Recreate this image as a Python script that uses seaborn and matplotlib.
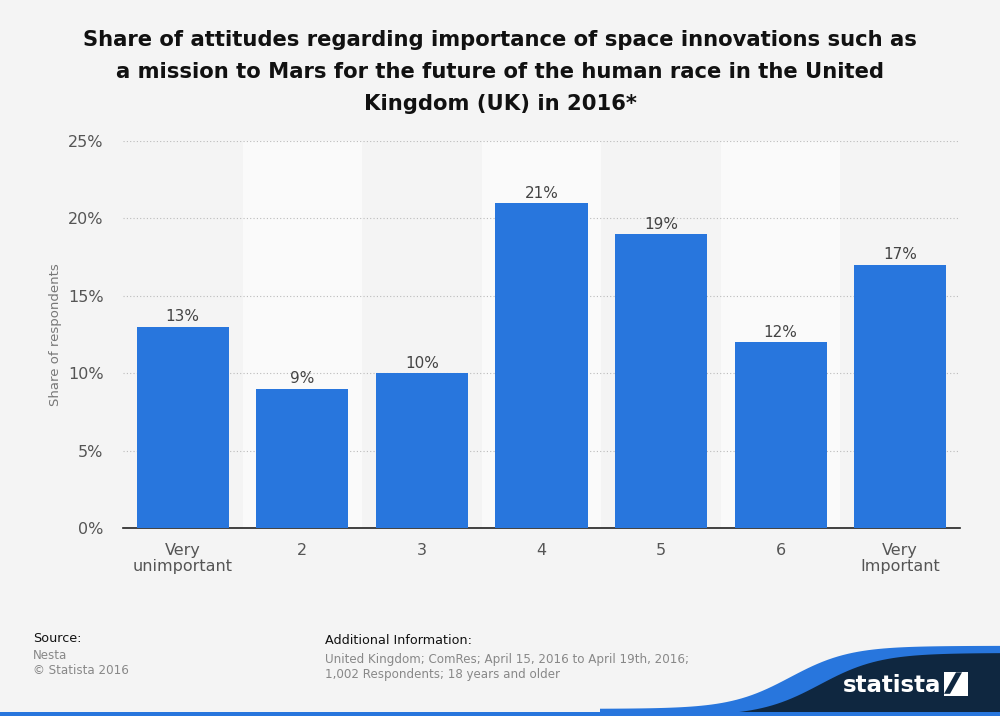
import numpy as np
import pandas as pd
import matplotlib
matplotlib.use("Agg")
import matplotlib.pyplot as plt
import seaborn as sns
from matplotlib.patches import Polygon, Rectangle

categories = ["Very\nunimportant", "2", "3", "4", "5", "6", "Very\nImportant"]
shares = [13, 9, 10, 21, 19, 12, 17]
y_ticks = [0, 5, 10, 15, 20, 25]

df = pd.DataFrame({"category": categories, "share": shares})

sns.set_theme(style="white")
plt.rcParams["font.family"] = ["DejaVu Sans"]

bg = "#f4f4f4"
fig = plt.figure(figsize=(10, 7.16), dpi=100, facecolor=bg)
ax = fig.add_axes([0.123, 0.2626, 0.837, 0.5405])
ax.set_facecolor(bg)

# alternating column bands
for i in range(len(categories)):
    if i % 2 == 1:
        ax.axvspan(i - 0.5, i + 0.5, color="#fafafa", zorder=0, lw=0)

sns.barplot(data=df, x="category", y="share", color="#2876dd", saturation=1,
            width=0.77, ax=ax, zorder=3, linewidth=0)

for i, v in enumerate(shares):
    ax.text(i, v + 0.15, f"{v}%", ha="center", va="bottom", fontsize=11,
            color="#444444", zorder=4)

ax.set_xlim(-0.5, len(categories) - 0.5)
ax.set_ylim(0, 25)
ax.set_yticks(y_ticks)
ax.set_yticklabels([f"{t}%" for t in y_ticks])
ax.yaxis.grid(True, color="#bbbbbb", linestyle=(0, (1, 2)), linewidth=0.8, zorder=1)
ax.set_axisbelow(True)
for s in ["top", "right", "left"]:
    ax.spines[s].set_visible(False)
ax.spines["bottom"].set_color("#222222")
ax.spines["bottom"].set_linewidth(1.2)
ax.tick_params(axis="y", length=0, labelsize=11.5, labelcolor="#555555", pad=14)
ax.tick_params(axis="x", length=0, labelsize=11.5, labelcolor="#555555", pad=11)
ax.set_xlabel("")
ax.set_ylabel("Share of respondents", fontsize=9.5, color="#777777", labelpad=4)
for lbl in ax.get_xticklabels():
    lbl.set_linespacing(1.05)

fig.text(0.5, 0.958,
         "Share of attitudes regarding importance of space innovations such as\n"
         "a mission to Mars for the future of the human race in the United\n"
         "Kingdom (UK) in 2016*",
         ha="center", va="top", fontsize=15.2, fontweight="bold",
         color="#111111", linespacing=1.75)

# footer
fig.text(0.033, 0.108, "Source:", fontsize=9.2, color="#111111", va="center")
fig.text(0.033, 0.085, "Nesta", fontsize=8.6, color="#888888", va="center")
fig.text(0.033, 0.063, "© Statista 2016", fontsize=8.6, color="#888888", va="center")
fig.text(0.325, 0.106, "Additional Information:", fontsize=9.2, color="#111111", va="center")
fig.text(0.325, 0.079, "United Kingdom; ComRes; April 15, 2016 to April 19th, 2016;",
         fontsize=8.6, color="#888888", va="center")
fig.text(0.325, 0.058, "1,002 Respondents; 18 years and older",
         fontsize=8.6, color="#888888", va="center")

# logo swoosh
xs = np.linspace(0.6, 1.0, 80)
wave_top = 0.004 + 0.088 / (1 + np.exp(-(xs - 0.79) / 0.03))
blue = Polygon(np.vstack([np.column_stack([xs, wave_top + 0.006]),
                          [[1.0, 0.0], [0.6, 0.0]]]),
               closed=True, transform=fig.transFigure, color="#2876dd", lw=0)
navy = Polygon(np.vstack([np.column_stack([xs + 0.03, wave_top - 0.004]),
                          [[1.03, 0.0], [0.63, 0.0]]]),
               closed=True, transform=fig.transFigure, color="#0f2740", lw=0)
fig.patches.extend([blue, navy])
fig.patches.append(Rectangle((0, 0), 1, 0.005, transform=fig.transFigure,
                             color="#2876dd", lw=0))
fig.text(0.843, 0.043, "statista", fontsize=16.5, fontweight="bold",
         color="white", va="center")
fig.patches.append(Rectangle((0.944, 0.028), 0.024, 0.033, transform=fig.transFigure,
                             color="white", lw=0))
fig.patches.append(Polygon([[0.944, 0.031], [0.956, 0.061], [0.962, 0.061], [0.950, 0.031]],
                           closed=True, transform=fig.transFigure, color="#0f2740", lw=0))

fig.savefig("out.png", dpi=100, facecolor=bg)
